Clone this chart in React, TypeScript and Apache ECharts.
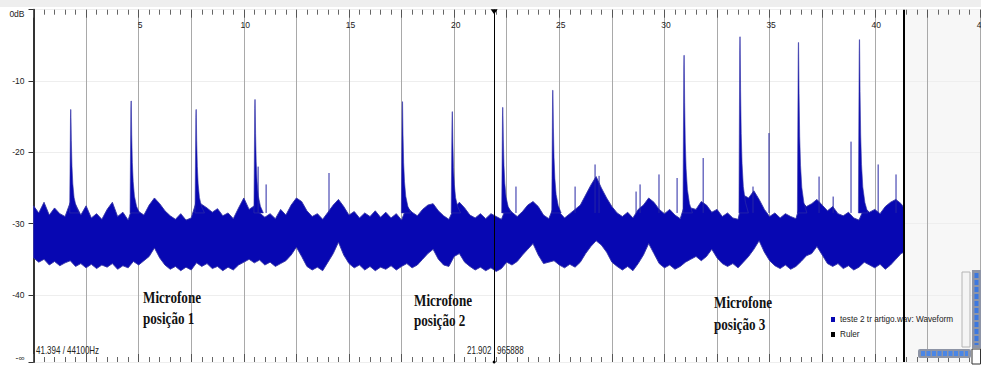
import { useEffect, useRef } from "react";
import * as echarts from "echarts";

// ---------- data ----------
const WAVE_NAME = "teste 2 tr artigo.wav: Waveform";
const RULER_NAME = "Ruler";
const fileEnd = 41.394; // seconds (end of file marker)
const cursorTime = 21.902; // seconds (cursor)
const envStep = 0.25; // seconds between envelope samples

// upper edge of the waveform band (dB), every 0.25 s, last value at fileEnd
const upperEnv = [
  -27.5, -28.5, -27.0, -28.8, -27.8, -28.6, -29.0, -27.0,
  -27.3, -28.8, -27.5, -29.2, -28.6, -29.4, -28.0, -27.0,
  -29.0, -28.4, -29.5, -27.2, -28.3, -28.8, -27.4, -26.4,
  -27.2, -28.2, -28.9, -29.4, -28.6, -29.5, -29.2, -26.8,
  -27.3, -27.8, -28.4, -27.9, -28.9, -28.5, -29.3, -27.8,
  -26.4, -28.0, -27.5, -28.5, -29.1, -28.6, -29.3, -28.0,
  -28.8, -27.4, -26.4, -26.9, -28.2, -29.0, -28.6, -29.4,
  -28.4, -27.4, -26.6, -27.6, -28.8, -28.3, -29.2, -28.5,
  -29.0, -28.2, -29.1, -28.4, -29.2, -28.6, -29.5, -27.6,
  -28.4, -28.9, -28.0, -27.4, -27.2, -28.2, -28.9, -29.4,
  -27.8, -27.0, -27.8, -28.8, -29.2, -28.6, -29.3, -28.6,
  -29.0, -29.4, -27.5, -28.4, -29.0, -28.3, -27.4, -26.9,
  -27.6, -28.8, -29.3, -27.5, -28.4, -29.2, -28.6, -28.0,
  -27.4, -26.0, -24.6, -23.4, -25.0, -26.4, -27.6, -28.5,
  -29.0, -28.4, -29.2, -28.0, -27.4, -26.4, -27.0, -28.0,
  -28.6, -28.0, -28.8, -29.3, -27.0, -27.8, -28.0, -26.9,
  -27.4, -28.4, -28.0, -29.0, -28.5, -29.2, -29.4, -26.0,
  -26.4, -25.4, -26.6, -28.0, -29.0, -28.5, -29.2, -28.6,
  -29.0, -29.3, -26.8, -27.6, -27.2, -26.6, -27.4, -28.2,
  -27.6, -28.6, -28.9, -28.4, -29.2, -29.5, -27.8, -28.4,
  -28.0, -28.6, -27.6, -27.0, -26.6, -27.2, -27.8,
];

// lower edge of the waveform band (dB)
const lowerEnv = [
  -34.8, -35.4, -35.0, -35.8, -35.3, -35.9, -35.5, -35.2,
  -36.0, -35.6, -36.2, -35.7, -36.3, -35.8, -36.1, -35.6,
  -36.4, -35.9, -36.2, -35.3, -35.8, -35.2, -34.6, -33.4,
  -34.8, -35.8, -36.4, -36.0, -36.6, -36.1, -36.5, -35.5,
  -36.0, -35.6, -36.3, -36.0, -36.6, -36.1, -36.5, -35.8,
  -35.4, -35.0, -35.5, -35.1, -35.8, -35.4, -36.0, -35.6,
  -35.2, -34.4, -33.3, -34.6, -36.0, -36.5, -36.1, -36.6,
  -35.4, -34.2, -32.6, -34.4, -35.6, -36.2, -35.8, -36.5,
  -36.0, -36.6, -36.1, -36.4, -35.9, -36.5, -36.0, -35.6,
  -36.2, -35.8, -35.0, -34.2, -33.6, -35.0, -35.8, -36.0,
  -34.6, -34.2, -35.4, -36.0, -36.5, -36.1, -36.6, -36.2,
  -36.7, -36.3, -35.4, -35.8, -35.3, -34.4, -33.6, -32.8,
  -34.4, -35.6, -35.4, -35.2, -35.8, -36.2, -35.7, -36.1,
  -35.4, -34.2, -33.2, -32.4, -33.0, -34.0, -35.4, -36.0,
  -36.5, -36.0, -36.6, -35.6, -34.4, -32.8, -34.2, -35.6,
  -36.2, -35.8, -36.4, -36.0, -35.4, -35.0, -34.6, -35.2,
  -34.6, -33.6, -34.8, -35.6, -36.0, -35.6, -36.2, -35.4,
  -34.6, -33.6, -32.4, -34.0, -35.2, -35.9, -36.3, -35.8,
  -36.4, -36.0, -35.3, -34.5, -34.2, -33.2, -34.4, -35.6,
  -36.0, -35.6, -36.3, -35.9, -36.5, -36.1, -35.4, -35.8,
  -36.2, -35.7, -36.4, -35.8, -35.0, -34.2, -34.0,
];

// impulses (clap peaks): time (s) and peak level (dB)
const impulseTimes = [1.77, 4.64, 7.73, 10.53, 17.54, 19.91, 22.31, 24.69, 30.93, 33.59, 36.37, 39.27];
const impulsePeaks = [-14.0, -12.8, -14.0, -12.6, -12.9, -14.3, -13.7, -11.3, -6.4, -3.8, -4.6, -4.2];

// thin needles above the band: time (s) and peak (dB)
const needleTimes = [10.68, 11.06, 14.05, 22.94, 25.75, 26.7, 26.89, 28.65, 28.84, 29.74, 30.6, 31.84, 34.21, 34.97, 37.35, 38.02, 38.87, 40.16, 41.01];
const needlePeaks = [-22.0, -24.5, -22.9, -24.8, -24.8, -21.7, -23.3, -25.5, -24.5, -23.1, -23.6, -20.8, -24.8, -17.3, -23.4, -26.2, -18.5, -21.7, -23.1];

// texts
const annotationTexts = ["Microfone\nposição 1", "Microfone\nposição 2", "Microfone\nposição 3"];
const statusTexts = ["41.394 / 44100Hz", "21.902", "965888"];

// ---------- styling ----------
const BAND = "#0707b2";
const EDGE = "#3434a6";
const SANS = '"Liberation Sans", Arial, sans-serif';
const IMPULSE_BASE = -28.5;
const IMPULSE_DT = [-0.05, -0.012, -0.004, 0.008, 0.03, 0.06, 0.1, 0.16, 0.26, 0.4];
const IMPULSE_F = [1, 0.08, 0, 0, 0.3, 0.55, 0.72, 0.85, 0.94, 1];
const NEEDLE_BASE = -28.5;

const envTimes = upperEnv.map((_, i) => (i < upperEnv.length - 1 ? i * envStep : fileEnd));

export default function App() {
  const ref = useRef<HTMLDivElement>(null);

  useEffect(() => {
    if (!ref.current) return;
    const chart = echarts.init(ref.current, undefined, { renderer: "svg" });

    const tickCommon = {
      axisLine: { show: false },
      axisTick: { show: true, inside: true, length: 8, lineStyle: { color: "#555" } },
      minorTick: { show: true, splitNumber: 5, length: 5, lineStyle: { color: "#666" } },
    };

    const option: any = {
      animation: false,
      backgroundColor: "#ffffff",
      grid: { left: 33.5, right: 0, top: 9.7, bottom: 3, outerBoundsMode: "none", containLabel: false },
      legend: {
        left: 826,
        top: 309,
        orient: "vertical",
        itemWidth: 4,
        itemHeight: 5,
        itemGap: 4,
        icon: "rect",
        selectedMode: false,
        textStyle: { fontSize: 8.2, fontFamily: SANS, color: "#222", lineHeight: 11 },
        data: [WAVE_NAME, RULER_NAME],
      },
      xAxis: [
        {
          type: "value",
          position: "top",
          min: 0,
          max: 45.05,
          interval: 2.5,
          ...tickCommon,
          splitLine: { show: true, lineStyle: { color: "#a9a9a9", width: 1 } },
          axisLabel: {
            inside: true,
            margin: 11,
            color: "#222",
            fontSize: 8.5,
            fontFamily: SANS,
            align: "center",
            verticalAlign: "top",
            padding: [0, 0, 0, 3],
            formatter: (v: number) => (v > 0 && v % 5 === 0 ? String(v) : ""),
          },
        },
        {
          type: "value",
          position: "bottom",
          min: 0,
          max: 45.05,
          interval: 2.5,
          ...tickCommon,
          splitLine: { show: false },
          axisLabel: { show: false },
        },
      ],
      yAxis: {
        type: "value",
        min: -49.4,
        max: 0,
        axisLine: { show: true, lineStyle: { color: "#333", width: 2 } },
        axisTick: { show: true, length: 5, lineStyle: { color: "#333" } },
        splitLine: { show: true, lineStyle: { color: "#eeeeee" } },
        axisLabel: {
          color: "#222",
          fontSize: 8.5,
          fontFamily: SANS,
          margin: 9,
          verticalAlignMaxLabel: "top",
          verticalAlignMinLabel: "bottom",
          formatter: (v: number) => (v === 0 ? "0dB" : v < -45 ? "-∞" : String(v)),
        },
      },
      series: [
        {
          name: WAVE_NAME,
          type: "custom",
          xAxisIndex: 0,
          silent: true,
          z: 2,
          itemStyle: { color: BAND },
          encode: { x: 0, y: 1 },
          data: envTimes.map((t, i) => [t, upperEnv[i], lowerEnv[i]]),
          renderItem: (params: any, api: any) => {
            if (params.dataIndex !== 0) return null;
            const top = envTimes.map((t, i) => api.coord([t, upperEnv[i]]));
            const bottom = envTimes.map((t, i) => api.coord([t, lowerEnv[i]])).reverse();
            return {
              type: "polygon",
              shape: { points: top.concat(bottom) },
              style: { fill: BAND, stroke: EDGE, lineWidth: 0.9 },
            };
          },
        },
        {
          name: "impulses",
          type: "custom",
          xAxisIndex: 0,
          silent: true,
          z: 3,
          itemStyle: { color: BAND },
          encode: { x: 0, y: 1 },
          data: impulseTimes.map((t, i) => [t, impulsePeaks[i]]),
          renderItem: (_params: any, api: any) => {
            const t = api.value(0);
            const peak = api.value(1);
            const pts = IMPULSE_DT.map((dt, k) =>
              api.coord([t + dt, peak + IMPULSE_F[k] * (IMPULSE_BASE - peak)])
            );
            return {
              type: "polygon",
              shape: { points: pts },
              style: { fill: BAND, stroke: EDGE, lineWidth: 0.6 },
            };
          },
        },
        {
          name: "needles",
          type: "custom",
          xAxisIndex: 0,
          silent: true,
          z: 3,
          itemStyle: { color: EDGE },
          encode: { x: 0, y: 1 },
          data: needleTimes.map((t, i) => [t, needlePeaks[i]]),
          renderItem: (_params: any, api: any) => {
            const a = api.coord([api.value(0), NEEDLE_BASE]);
            const b = api.coord([api.value(0), api.value(1)]);
            return {
              type: "line",
              shape: { x1: a[0], y1: a[1], x2: b[0], y2: b[1] },
              style: { stroke: "#2626a4", lineWidth: 1 },
            };
          },
        },
        {
          name: RULER_NAME,
          type: "line",
          xAxisIndex: 0,
          data: [],
          itemStyle: { color: "#000" },
          lineStyle: { color: "#000" },
          z: 5,
          markLine: {
            silent: true,
            animation: false,
            symbol: ["none", "none"],
            label: { show: false },
            data: [
              { xAxis: cursorTime, lineStyle: { color: "#000", width: 1, type: "solid" } },
              { xAxis: fileEnd, lineStyle: { color: "#000", width: 2, type: "solid" } },
            ],
          },
          markPoint: {
            silent: true,
            animation: false,
            label: { show: false },
            itemStyle: { color: "#000" },
            data: [
              { coord: [cursorTime, 0], symbol: "triangle", symbolSize: [7, 5], symbolRotate: 180, symbolOffset: [0, 2] },
              { coord: [cursorTime, -49.4], symbol: "circle", symbolSize: 3 },
            ],
          },
        },
      ],
      graphic: [
        { type: "rect", z: 10, silent: true, shape: { x: 0, y: 0, width: 981, height: 7 }, style: { fill: "#eeeeee" } },
        { type: "rect", z: -1, silent: true, shape: { x: 905, y: 9.7, width: 76, height: 352 }, style: { fill: "#f7f7f7" } },
        // annotations
        {
          type: "text", z: 20, x: 143, y: 287, scaleX: 0.82, silent: true,
          style: { text: annotationTexts[0], font: 'bold 16px "Liberation Serif", serif', fill: "#111", lineHeight: 21, verticalAlign: "top" },
        },
        {
          type: "text", z: 20, x: 414, y: 290, scaleX: 0.82, silent: true,
          style: { text: annotationTexts[1], font: 'bold 16px "Liberation Serif", serif', fill: "#111", lineHeight: 20.5, verticalAlign: "top" },
        },
        {
          type: "text", z: 20, x: 714, y: 292, scaleX: 0.82, silent: true,
          style: { text: annotationTexts[2], font: 'bold 16px "Liberation Serif", serif', fill: "#111", lineHeight: 22, verticalAlign: "top" },
        },
        // status texts
        {
          type: "text", z: 20, x: 36, y: 351, scaleX: 0.8, silent: true,
          style: { text: statusTexts[0], font: '10px "Liberation Sans", sans-serif', fill: "#222", verticalAlign: "middle" },
        },
        {
          type: "text", z: 20, x: 467, y: 351, scaleX: 0.8, silent: true,
          style: { text: statusTexts[1], font: '10px "Liberation Sans", sans-serif', fill: "#222", verticalAlign: "middle" },
        },
        {
          type: "text", z: 20, x: 497, y: 351, scaleX: 0.8, silent: true,
          style: { text: statusTexts[2], font: '10px "Liberation Sans", sans-serif', fill: "#222", verticalAlign: "middle" },
        },
        // scroll widgets (UI chrome)
        { type: "rect", z: 20, silent: true, shape: { x: 962, y: 272, width: 8, height: 75 }, style: { fill: "#f4f4f4", stroke: "#b4b4b4", lineWidth: 1 } },
        { type: "rect", z: 20, silent: true, shape: { x: 972, y: 270, width: 9, height: 78 }, style: { fill: "#8d94a6" } },
        { type: "line", z: 21, silent: true, shape: { x1: 976.5, y1: 273, x2: 976.5, y2: 345 }, style: { stroke: "#3c78e0", lineWidth: 4, lineDash: [5, 2] } },
        { type: "rect", z: 20, silent: true, shape: { x: 918, y: 349, width: 53, height: 9, r: 2 }, style: { fill: "#8d94a6" } },
        { type: "line", z: 21, silent: true, shape: { x1: 921, y1: 353.5, x2: 968, y2: 353.5 }, style: { stroke: "#4a86e6", lineWidth: 5, lineDash: [4, 1.5] } },
        { type: "rect", z: 21, silent: true, shape: { x: 972, y: 349, width: 8.5, height: 15 }, style: { fill: "#ffffff", stroke: "#333", lineWidth: 1 } },
      ],
    };

    chart.setOption(option);
    return () => chart.dispose();
  }, []);

  return (
    <div
      ref={ref}
      style={{ position: "fixed", left: 0, top: 0, width: 981, height: 365, background: "#fff" }}
    />
  );
}
